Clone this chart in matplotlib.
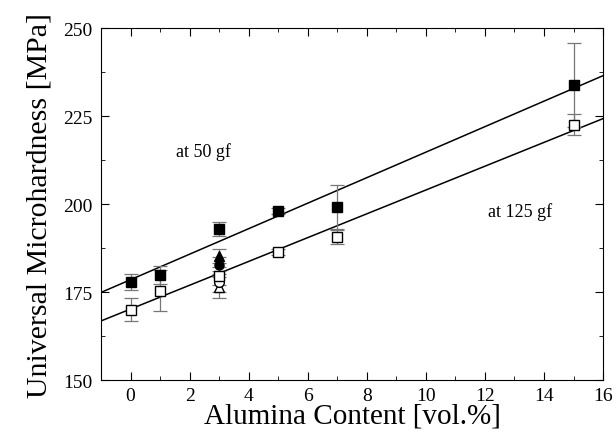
import numpy as np
import matplotlib.pyplot as plt

plt.rcParams['font.family'] = ['Liberation Serif', 'DejaVu Serif']

# alumina content (vol.%)
x_50 = [0, 1, 3, 5, 7, 15]
h_50 = [177.9, 179.8, 192.9, 198.1, 199.1, 233.8]
e_50 = [2.3, 2.5, 2.0, 0.8, 6.3, 12.0]

x_125 = [0, 1, 3, 5, 7, 15]
h_125 = [170.0, 175.4, 179.5, 186.3, 190.6, 222.6]
e_125 = [3.2, 5.8, 2.5, 0.8, 2.0, 3.0]

# extra measurements at 3 vol.%
x_tri_f, h_tri_f, e_tri_f = [3], [185.2], [2.0]
x_cir_f, h_cir_f, e_cir_f = [3], [182.6], [2.5]
x_cir_o, h_cir_o, e_cir_o = [3], [178.0], [3.0]
x_tri_o, h_tri_o, e_tri_o = [3], [176.4], [3.0]

# linear fits
fit_x = [-1, 16]
fit_50 = [174.9, 236.5]
fit_125 = [166.8, 224.3]

fig = plt.figure(figsize=(6.16, 4.35), dpi=100)
ax = fig.add_axes([0.164, 0.124, 0.815, 0.809])

ax.plot(fit_x, fit_50, color='black', lw=1.1)
ax.plot(fit_x, fit_125, color='black', lw=1.1)

ebkw = dict(ecolor='#777777', elinewidth=0.9, capsize=5, capthick=0.9, ls='none')
ax.errorbar(x_tri_o, h_tri_o, yerr=e_tri_o, marker='^', ms=7, mfc='white', mec='black', **ebkw)
ax.errorbar(x_cir_o, h_cir_o, yerr=e_cir_o, marker='o', ms=7, mfc='white', mec='black', **ebkw)
ax.errorbar(x_125, h_125, yerr=e_125, marker='s', ms=7, mfc='white', mec='black', **ebkw)
ax.errorbar(x_cir_f, h_cir_f, yerr=e_cir_f, marker='o', ms=6.5, mfc='black', mec='black', **ebkw)
ax.errorbar(x_tri_f, h_tri_f, yerr=e_tri_f, marker='^', ms=7, mfc='black', mec='black', **ebkw)
ax.errorbar(x_50, h_50, yerr=e_50, marker='s', ms=7, mfc='black', mec='black', **ebkw)

ax.text(2.47, 215, 'at 50 gf', ha='center', va='center', fontsize=13)
ax.text(13.2, 198, 'at 125 gf', ha='center', va='center', fontsize=13)

ax.set_xlim(-1, 16)
ax.set_ylim(150, 250)
ax.set_xticks(np.arange(0, 17, 2))
ax.set_xticks(np.arange(-1, 17, 1), minor=True)
ax.set_yticks([150, 175, 200, 225, 250])
ax.set_yticks(np.arange(150, 251, 12.5), minor=True)
ax.tick_params(which='both', direction='in', top=True, right=True, labelsize=14)
ax.tick_params(which='major', length=6)
ax.tick_params(which='minor', length=3)
ax.tick_params(axis='x', pad=5)
ax.tick_params(axis='y', pad=6)

ax.set_xlabel('Alumina Content [vol.%]', fontsize=21, labelpad=-1)
ax.set_ylabel('Universal Microhardness [MPa]', fontsize=21.5, labelpad=8)

fig.savefig('out.png', dpi=100)
